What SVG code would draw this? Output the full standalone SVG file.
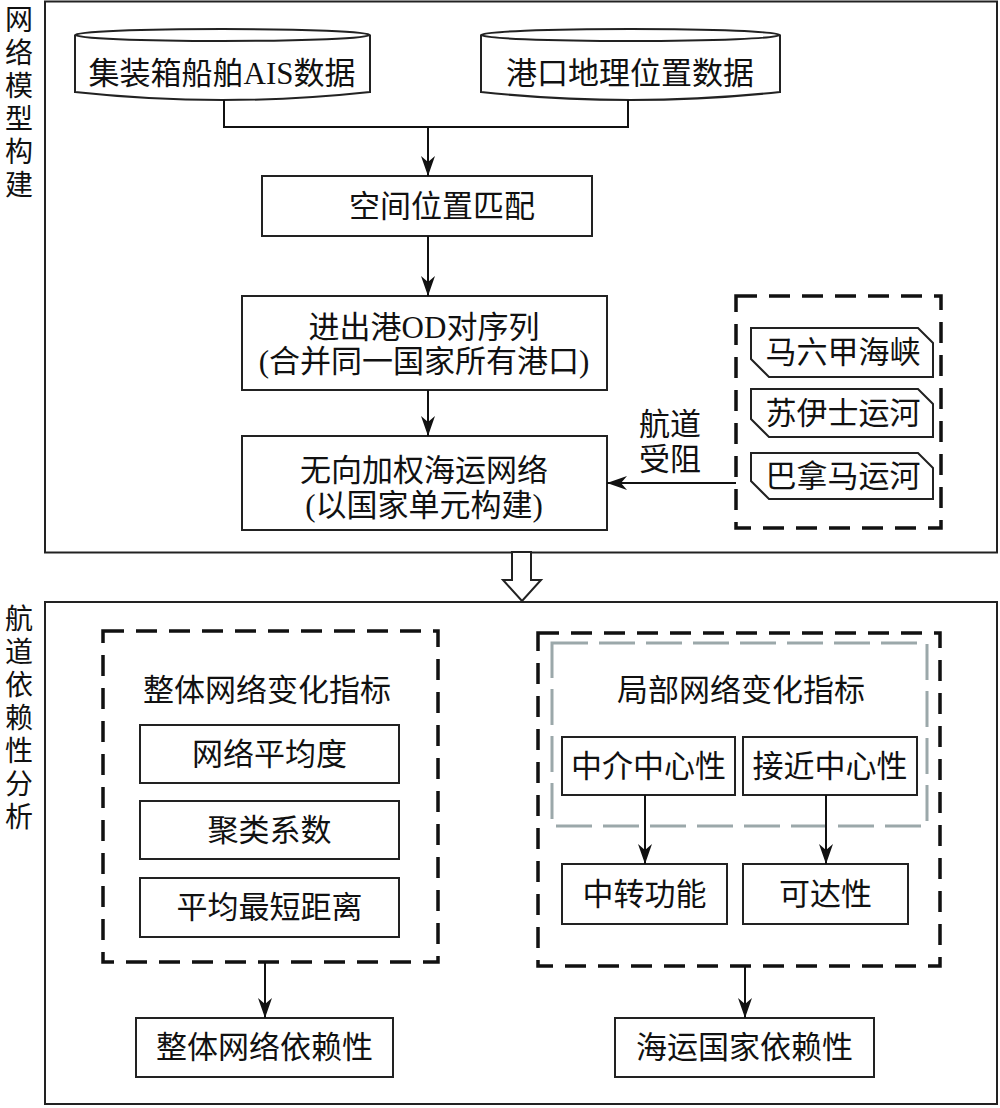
<svg xmlns="http://www.w3.org/2000/svg" width="1000" height="1108" viewBox="0 0 1000 1108">
<defs>
<style>
.t{font-family:"Liberation Serif","Noto Sans CJK SC",serif;font-size:31px;fill:#111;text-anchor:middle;dominant-baseline:central}
.side{font-family:"Noto Sans CJK SC",serif;font-size:28px;fill:#111;writing-mode:vertical-rl;letter-spacing:5px}
.box{fill:#fff;stroke:#222;stroke-width:2}
.panel{fill:none;stroke:#222;stroke-width:2}
.dash{fill:none;stroke:#111;stroke-width:3.5;stroke-dasharray:21 12}
.gdash{fill:none;stroke:#9ba8aa;stroke-width:3;stroke-dasharray:36 11}
.conn{fill:none;stroke:#111;stroke-width:2}
</style>
<marker id="ah" markerUnits="userSpaceOnUse" markerWidth="20" markerHeight="14" viewBox="0 0 20 14" refX="20" refY="7" orient="auto">
<path d="M0,0 L20,7 L0,14 L6,7 z" fill="#111"/>
</marker>
</defs>
<rect width="1000" height="1108" fill="#fff"/>

<g id="panel-top">
<rect class="panel" x="45" y="1.5" width="952" height="551"/>
<text class="side" x="19" y="5">网络模型构建</text>
</g>
<g id="panel-bottom">
<rect class="panel" x="45" y="602" width="952" height="502"/>
<text class="side" x="19" y="604">航道依赖性分析</text>
</g>

<g id="n-ais">
<path class="box" d="M75,35 L75,92 Q222.5,108 370,92 L370,35"/>
<ellipse class="box" cx="222.5" cy="35" rx="147.5" ry="6"/>
<text class="t" x="222" y="73">集装箱船舶AIS数据</text>
</g>
<g id="n-port">
<path class="box" d="M481,35 L481,92 Q630.5,108 780,92 L780,35"/>
<ellipse class="box" cx="630.5" cy="35" rx="149.5" ry="6"/>
<text class="t" x="630" y="73">港口地理位置数据</text>
</g>

<g id="n-match">
<rect class="box" x="262" y="176" width="330" height="60"/>
<text class="t" x="442" y="206">空间位置匹配</text>
</g>
<g id="n-od">
<rect class="box" x="242" y="296" width="365" height="94"/>
<text class="t" x="424" y="327">进出港OD对序列</text>
<text class="t" x="424" y="361">(合并同一国家所有港口)</text>
</g>
<g id="n-net">
<rect class="box" x="242" y="436" width="365" height="94"/>
<text class="t" x="424" y="470">无向加权海运网络</text>
<text class="t" x="424" y="505">(以国家单元构建)</text>
</g>

<g id="n-block">
<rect class="dash" x="736" y="296" width="205" height="232"/>
<g id="n-malacca">
<polygon class="box" points="751,328 918,328 933,343 933,377 769,377 751,359"/>
<text class="t" x="843" y="352">马六甲海峡</text>
</g>
<g id="n-suez">
<polygon class="box" points="751,389 918,389 933,404 933,437 769,437 751,419"/>
<text class="t" x="843" y="413">苏伊士运河</text>
</g>
<g id="n-panama">
<polygon class="box" points="751,453 918,453 933,468 933,499 769,499 751,481"/>
<text class="t" x="843" y="476">巴拿马运河</text>
</g>
</g>

<g id="n-hollow-arrow">
<polygon fill="#fff" stroke="#222" stroke-width="2" points="512,552 531,552 531,580 541,580 522,601 503,580 512,580"/>
</g>

<g id="n-global">
<rect class="dash" x="103" y="631" width="335" height="331"/>
<text class="t" x="267" y="690">整体网络变化指标</text>
<g id="n-degree"><rect class="box" x="140" y="725" width="259" height="58"/><text class="t" x="269.5" y="754">网络平均度</text></g>
<g id="n-cluster"><rect class="box" x="140" y="801" width="259" height="58"/><text class="t" x="269.5" y="830">聚类系数</text></g>
<g id="n-path"><rect class="box" x="140" y="878" width="259" height="59"/><text class="t" x="269.5" y="907.5">平均最短距离</text></g>
</g>

<g id="n-local">
<rect class="dash" x="538" y="633" width="402" height="333"/>
<rect class="gdash" x="552" y="643" width="375" height="183"/>
<text class="t" x="741" y="690">局部网络变化指标</text>
<g id="n-betw"><rect class="box" x="562" y="737" width="173" height="58"/><text class="t" x="648.5" y="766">中介中心性</text></g>
<g id="n-close"><rect class="box" x="743" y="737" width="174" height="58"/><text class="t" x="830" y="766">接近中心性</text></g>
<g id="n-transfer"><rect class="box" x="562" y="864" width="165" height="60"/><text class="t" x="644.5" y="894">中转功能</text></g>
<g id="n-access"><rect class="box" x="743" y="864" width="165" height="60"/><text class="t" x="825.5" y="894">可达性</text></g>
</g>

<g id="n-gdep"><rect class="box" x="136" y="1018" width="257" height="59"/><text class="t" x="264.5" y="1047">整体网络依赖性</text></g>
<g id="n-cdep"><rect class="box" x="615" y="1018" width="259" height="59"/><text class="t" x="744.5" y="1047">海运国家依赖性</text></g>

<g id="connectors">
<path class="conn" d="M224,100 V127 H628 V100"/>
<path class="conn" d="M428,127 V176" marker-end="url(#ah)"/>
<path class="conn" d="M428,236 V296" marker-end="url(#ah)"/>
<path class="conn" d="M428,390 V436" marker-end="url(#ah)"/>
<path class="conn" d="M736,483 H607" marker-end="url(#ah)"/>
<text class="t" x="670" y="424">航道</text>
<text class="t" x="670" y="459">受阻</text>
<path class="conn" d="M265,962 V1018" marker-end="url(#ah)"/>
<path class="conn" d="M645,795 V864" marker-end="url(#ah)"/>
<path class="conn" d="M826,795 V864" marker-end="url(#ah)"/>
<path class="conn" d="M745,966 V1018" marker-end="url(#ah)"/>
</g>
</svg>
